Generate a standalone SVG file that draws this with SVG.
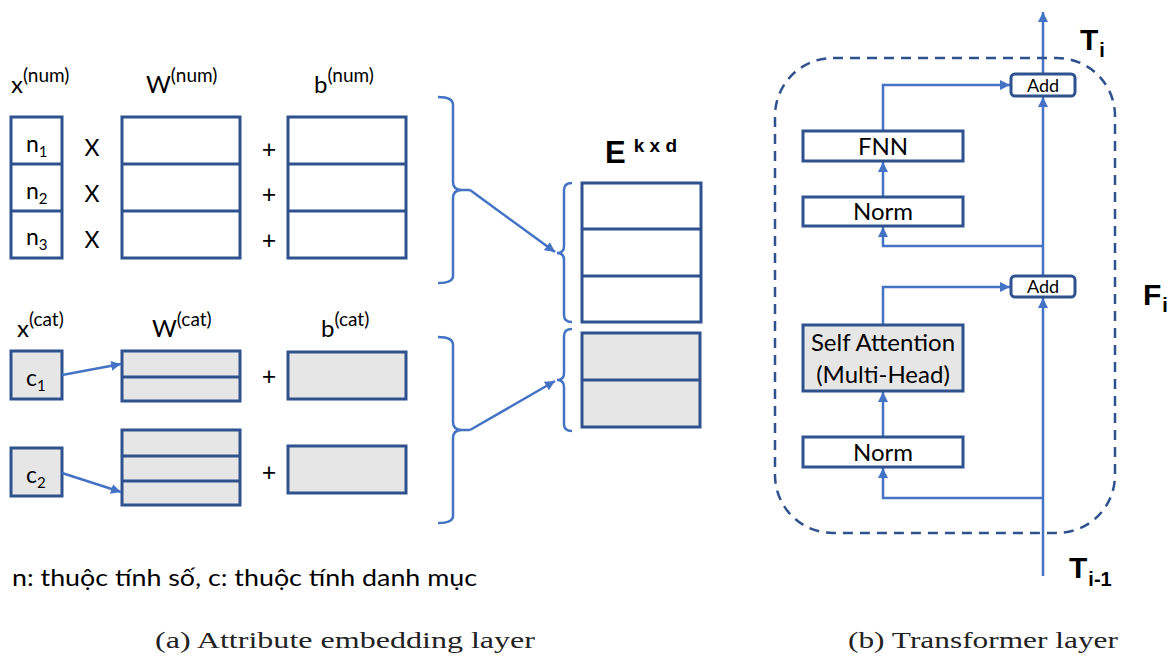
<svg xmlns="http://www.w3.org/2000/svg" width="1170" height="659" viewBox="0 0 1170 659">
<defs>
<marker id="ah" viewBox="0 0 10 10" refX="10" refY="5" markerWidth="10" markerHeight="10" markerUnits="userSpaceOnUse" orient="auto">
<path d="M0,0 L10,5 L0,10 z" fill="#4472C4"/>
</marker>
</defs>
<style>
.bx{fill:#fff;stroke:#2F528F;stroke-width:3}
.gx{fill:#E6E6E6;stroke:#2F528F;stroke-width:3}
.ln{fill:none;stroke:#4472C4;stroke-width:2.5}
.ar{fill:none;stroke:#4472C4;stroke-width:2.5;marker-end:url(#ah)}
.t{font-family:Lato,"Open Sans",sans-serif;fill:#000}
.b{font-family:"Liberation Sans",Lato,sans-serif;font-weight:bold;fill:#000}
.cap{font-family:"Liberation Serif","DejaVu Serif",serif;fill:#222;font-size:23px}
</style>
<rect width="1170" height="659" fill="#fff"/>

<g id="labels-num">
<text class="t" x="11" y="93" font-size="24">x<tspan font-size="19" dy="-11">(num)</tspan></text>
<text class="t" x="146" y="93" font-size="24">W<tspan font-size="19" dy="-11">(num)</tspan></text>
<text class="t" x="314" y="93" font-size="24">b<tspan font-size="19" dy="-11">(num)</tspan></text>
</g>

<g id="x-num">
<rect class="bx" x="11" y="117" width="51" height="141"/>
<line class="bx" x1="11" y1="164" x2="62" y2="164"/>
<line class="bx" x1="11" y1="211" x2="62" y2="211"/>
<text class="t" x="26" y="152" font-size="23">n<tspan font-size="15" dy="5">1</tspan></text>
<text class="t" x="26" y="199" font-size="23">n<tspan font-size="15" dy="5">2</tspan></text>
<text class="t" x="26" y="245" font-size="23">n<tspan font-size="15" dy="5">3</tspan></text>
</g>
<g id="ops-num">
<text class="t" x="92" y="156" font-size="23" text-anchor="middle">X</text>
<text class="t" x="92" y="202" font-size="23" text-anchor="middle">X</text>
<text class="t" x="92" y="248" font-size="23" text-anchor="middle">X</text>
<text class="t" x="269" y="158" font-size="25" text-anchor="middle">+</text>
<text class="t" x="269" y="203" font-size="25" text-anchor="middle">+</text>
<text class="t" x="269" y="249" font-size="25" text-anchor="middle">+</text>
</g>
<g id="w-num">
<rect class="bx" x="122" y="117" width="118" height="141"/>
<line class="bx" x1="122" y1="164" x2="240" y2="164"/>
<line class="bx" x1="122" y1="211" x2="240" y2="211"/>
</g>
<g id="b-num">
<rect class="bx" x="288" y="117" width="118" height="141"/>
<line class="bx" x1="288" y1="164" x2="406" y2="164"/>
<line class="bx" x1="288" y1="211" x2="406" y2="211"/>
</g>

<g id="labels-cat">
<text class="t" x="17" y="337" font-size="24">x<tspan font-size="19" dy="-11">(cat)</tspan></text>
<text class="t" x="152" y="337" font-size="24">W<tspan font-size="19" dy="-11">(cat)</tspan></text>
<text class="t" x="321" y="337" font-size="24">b<tspan font-size="19" dy="-11">(cat)</tspan></text>
</g>
<g id="c1">
<rect class="gx" x="11" y="351" width="51" height="48"/>
<text class="t" x="26" y="386" font-size="23">c<tspan font-size="15" dy="5">1</tspan></text>
</g>
<g id="w-cat1">
<rect class="gx" x="122" y="351" width="118" height="50"/>
<line class="bx" x1="122" y1="377" x2="240" y2="377"/>
</g>
<g id="b-cat1">
<rect class="gx" x="288" y="352" width="118" height="47"/>
<text class="t" x="269" y="385" font-size="25" text-anchor="middle">+</text>
</g>
<g id="c2">
<rect class="gx" x="11" y="448" width="51" height="48"/>
<text class="t" x="26" y="483" font-size="23">c<tspan font-size="15" dy="5">2</tspan></text>
</g>
<g id="w-cat2">
<rect class="gx" x="122" y="430" width="118" height="75"/>
<line class="bx" x1="122" y1="456" x2="240" y2="456"/>
<line class="bx" x1="122" y1="481" x2="240" y2="481"/>
</g>
<g id="b-cat2">
<rect class="gx" x="288" y="446" width="118" height="47"/>
<text class="t" x="269" y="481" font-size="25" text-anchor="middle">+</text>
</g>

<g id="E-label">
<text class="b" x="605" y="163" font-size="31">E<tspan font-size="19" dx="8" dy="-11">k x d</tspan></text>
</g>
<g id="E-num">
<rect class="bx" x="582" y="183" width="119" height="139"/>
<line class="bx" x1="582" y1="229" x2="701" y2="229"/>
<line class="bx" x1="582" y1="276" x2="701" y2="276"/>
</g>
<g id="E-cat">
<rect class="gx" x="582" y="333" width="118" height="94"/>
<line class="bx" x1="582" y1="380" x2="700" y2="380"/>
</g>

<g id="connectors">
<path class="ln" d="M438,97 Q453,97 453,105 L453,182 Q453,190 462,190 L470,190 M462,190 Q453,190 453,198 L453,276 Q453,283 438,283"/>
<path class="ln" d="M438,337 Q453,337 453,345 L453,422 Q453,430 462,430 L470,430 M462,430 Q453,430 453,438 L453,516 Q453,523 438,523"/>
<path class="ln" d="M572,183 Q564,183 564,190 L564,246 Q564,253 557,253 M557,253 Q564,253 564,260 L564,315 Q564,322 572,322"/>
<path class="ln" d="M572,329 Q564,329 564,336 L564,373 Q564,380 557,380 M557,380 Q564,380 564,387 L564,424 Q564,431 572,431"/>
<line class="ar" x1="470" y1="190" x2="555" y2="252"/>
<line class="ar" x1="470" y1="430" x2="555" y2="381"/>
<line class="ar" x1="62" y1="375" x2="121" y2="364"/>
<line class="ar" x1="62" y1="473" x2="121" y2="492"/>

<line class="ar" x1="1043" y1="74" x2="1043" y2="12"/>
<line class="ar" x1="1043" y1="276" x2="1043" y2="97"/>
<line class="ar" x1="1043" y1="576" x2="1043" y2="298"/>
<polyline class="ar" points="883,131 883,85 1010,85"/>
<line class="ar" x1="883" y1="197" x2="883" y2="162"/>
<polyline class="ar" points="1043,246 883,246 883,227"/>
<polyline class="ar" points="883,325 883,287 1010,287"/>
<line class="ar" x1="883" y1="437" x2="883" y2="392"/>
<polyline class="ar" points="1043,498 883,498 883,468"/>
</g>

<g id="Fi-block">
<rect x="775" y="58" width="340" height="475" rx="58" ry="58" fill="none" stroke="#2F528F" stroke-width="2.5" stroke-dasharray="10,7"/>
</g>
<g id="add-top">
<rect class="bx" x="1011" y="74" width="64" height="22" rx="4" stroke-width="2.5"/>
<text class="t" x="1043" y="92" font-size="18" text-anchor="middle">Add</text>
</g>
<g id="fnn">
<rect class="bx" x="803" y="131" width="160" height="30"/>
<text class="t" x="883" y="155" font-size="24" text-anchor="middle">FNN</text>
</g>
<g id="norm-top">
<rect class="bx" x="803" y="197" width="160" height="29"/>
<text class="t" x="883" y="220" font-size="24" text-anchor="middle">Norm</text>
</g>
<g id="add-bottom">
<rect class="bx" x="1011" y="276" width="64" height="21" rx="4" stroke-width="2.5"/>
<text class="t" x="1043" y="293" font-size="18" text-anchor="middle">Add</text>
</g>
<g id="self-attention">
<rect class="gx" x="803" y="325" width="160" height="66"/>
<text class="t" x="883" y="351" font-size="24" text-anchor="middle">Self Attention</text>
<text class="t" x="883" y="383" font-size="24" text-anchor="middle">(Multi-Head)</text>
</g>
<g id="norm-bottom">
<rect class="bx" x="803" y="437" width="160" height="30"/>
<text class="t" x="883" y="461" font-size="24" text-anchor="middle">Norm</text>
</g>

<g id="transformer-labels">
<text class="b" x="1080" y="50" font-size="30">T<tspan font-size="20" dx="1" dy="7">i</tspan></text>
<text class="b" x="1143" y="305" font-size="30">F<tspan font-size="20" dx="1" dy="7">i</tspan></text>
<text class="b" x="1069" y="578" font-size="30">T<tspan font-size="20" dx="1" dy="8">i-1</tspan></text>
</g>

<g id="captions">
<text class="t" x="12" y="586" font-size="23" textLength="465" lengthAdjust="spacingAndGlyphs">n: thuộc tính số, c: thuộc tính danh mục</text>
<text class="cap" x="155" y="648" textLength="380" lengthAdjust="spacingAndGlyphs">(a) Attribute embedding layer</text>
<text class="cap" x="848" y="648" textLength="270" lengthAdjust="spacingAndGlyphs">(b) Transformer layer</text>
</g>
</svg>
